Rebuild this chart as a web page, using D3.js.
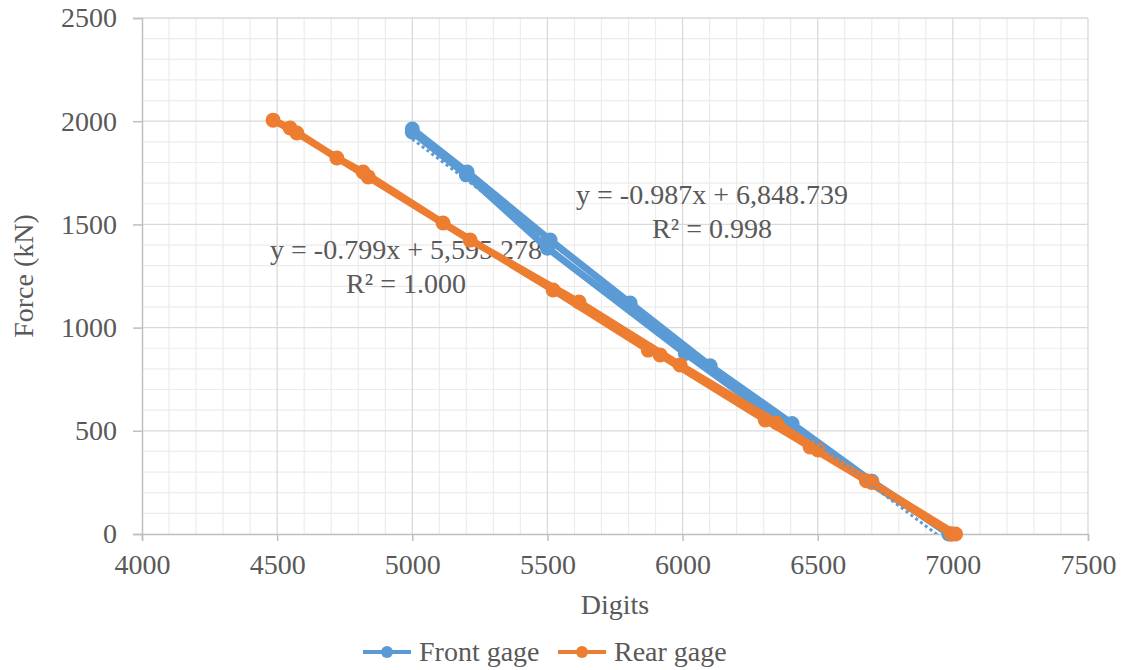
<!DOCTYPE html>
<html>
<head>
<meta charset="utf-8">
<script src="https://cdn.jsdelivr.net/npm/d3@7"></script>
<style>
  body { margin: 0; background: #fff; }
  text { font-family: "Liberation Serif", "Times New Roman", serif; fill: #595959; }
</style>
</head>
<body>
<div id="chart"></div>
<script>
// front gage: loading then unloading path (digits, kN)
const frontDigits = [6985, 6700, 6405, 6102, 5806, 5510, 5203, 5000, 5000, 5200, 5500, 6010, 6500, 6700, 6995];
const frontForce  = [0, 255, 535, 815, 1119, 1424, 1754, 1962, 1948, 1740, 1385, 875, 410, 255, 0];

// rear gage
const rearDigits = [7010, 6700, 6502, 6350, 5991, 5617, 5214, 4837, 4573, 4485, 4548, 4721, 4818, 5114, 5521, 5873, 5917, 6306, 6472, 6680, 6995];
const rearForce  = [0, 250, 407, 538, 819, 1124, 1424, 1730, 1943, 2005, 1967, 1822, 1754, 1507, 1182, 891, 867, 552, 422, 258, 0];

// linear trendlines from the chart labels
const trendFront = { slope: -0.987, intercept: 6848.739, r2: "0.998", label: "y = -0.987x + 6,848.739" };
const trendRear  = { slope: -0.799, intercept: 5595.278, r2: "1.000", label: "y = -0.799x + 5,595.278" };

const xTicks = [4000, 4500, 5000, 5500, 6000, 6500, 7000, 7500];
const yTicks = [0, 500, 1000, 1500, 2000, 2500];

const W = 1126, H = 670;
const margin = { top: 18, right: 38, bottom: 136, left: 142 };
const width = W - margin.left - margin.right,
    height = H - margin.top - margin.bottom;

const blue = "#5b9bd5", orange = "#ed7d31";
const fontSize = 28;

let svg = d3.select("#chart").append("svg")
    .attr("width", W)
    .attr("height", H);

let g = svg.append("g")
    .attr("transform", `translate(${margin.left},${margin.top})`);

let x = d3.scaleLinear().domain([4000, 7500]).range([0, width]);
let y = d3.scaleLinear().domain([0, 2500]).range([height, 0]);

// minor grid
g.append("g").selectAll("line")
    .data(d3.range(4100, 7500, 100).filter(d => d % 500 !== 0))
    .join("line")
    .attr("x1", d => x(d)).attr("x2", d => x(d))
    .attr("y1", 0).attr("y2", height)
    .attr("stroke", "#ececec").attr("stroke-width", 1.2);
g.append("g").selectAll("line")
    .data(d3.range(100, 2500, 100).filter(d => d % 500 !== 0))
    .join("line")
    .attr("x1", 0).attr("x2", width)
    .attr("y1", d => y(d)).attr("y2", d => y(d))
    .attr("stroke", "#ececec").attr("stroke-width", 1.2);

// major grid
g.append("g").selectAll("line")
    .data(xTicks.slice(1))
    .join("line")
    .attr("x1", d => x(d)).attr("x2", d => x(d))
    .attr("y1", 0).attr("y2", height)
    .attr("stroke", "#d9d9d9").attr("stroke-width", 1.3);
g.append("g").selectAll("line")
    .data(yTicks.slice(1))
    .join("line")
    .attr("x1", 0).attr("x2", width)
    .attr("y1", d => y(d)).attr("y2", d => y(d))
    .attr("stroke", "#d9d9d9").attr("stroke-width", 1.3);

// axes
let xAxis = d3.axisBottom(x).tickValues(xTicks).tickSize(7).tickPadding(13).tickFormat(d3.format("d"));
let yAxis = d3.axisLeft(y).tickValues(yTicks).tickSize(9).tickPadding(16).tickFormat(d3.format("d"));

function styleAxis(s) {
    s.attr("font-family", null);
    s.selectAll("line, path").attr("stroke", "#bfbfbf").attr("stroke-width", 1.5);
    s.selectAll("text").attr("font-size", fontSize).attr("fill", "#595959");
}

g.append("g")
    .attr("class", "axis x-axis")
    .attr("transform", `translate(0, ${height})`)
    .call(xAxis)
    .call(styleAxis);

g.append("g")
    .attr("class", "axis y-axis")
    .call(yAxis)
    .call(styleAxis);

// trendline labels (under the series lines)
function trendLabel(t, cx, cy) {
    g.append("text").attr("x", cx - margin.left).attr("y", cy - margin.top)
        .attr("text-anchor", "middle").attr("font-size", fontSize)
        .text(t.label);
    g.append("text").attr("x", cx - margin.left).attr("y", cy + 34 - margin.top)
        .attr("text-anchor", "middle").attr("font-size", fontSize)
        .text("R² = " + t.r2);
}
trendLabel(trendFront, 712, 204);
trendLabel(trendRear, 406, 259);

// series
const line = d3.line().x(d => x(d[0])).y(d => y(d[1]));
const front = frontDigits.map((d, i) => [d, frontForce[i]]);
const rear = rearDigits.map((d, i) => [d, rearForce[i]]);

function drawSeries(data, color) {
    g.append("path").datum(data)
        .attr("d", line)
        .attr("fill", "none")
        .attr("stroke", color)
        .attr("stroke-width", 7)
        .attr("stroke-linejoin", "round");
    g.append("g").selectAll("circle")
        .data(data)
        .join("circle")
        .attr("cx", d => x(d[0])).attr("cy", d => y(d[1]))
        .attr("r", 7.5)
        .attr("fill", color);
}
drawSeries(front, blue);
drawSeries(rear, orange);

// trendlines (dotted), clipped to plot area
svg.append("clipPath").attr("id", "plotclip")
    .append("rect").attr("width", width).attr("height", height);

function drawTrend(t, xs, color) {
    const x0 = d3.min(xs), x1 = d3.max(xs);
    g.append("line")
        .attr("clip-path", "url(#plotclip)")
        .attr("x1", x(x0)).attr("y1", y(t.slope * x0 + t.intercept))
        .attr("x2", x(x1)).attr("y2", y(t.slope * x1 + t.intercept))
        .attr("stroke", color)
        .attr("stroke-width", 3)
        .attr("stroke-dasharray", "3,3");
}
drawTrend(trendFront, frontDigits, blue);
drawTrend(trendRear, rearDigits, orange);

// axis titles
svg.append("text")
    .attr("transform", `translate(33, ${margin.top + height / 2}) rotate(-90)`)
    .attr("text-anchor", "middle").attr("font-size", fontSize)
    .text("Force (kN)");
svg.append("text")
    .attr("x", 615).attr("y", 614)
    .attr("text-anchor", "middle").attr("font-size", fontSize)
    .text("Digits");

// legend
const legend = [
    { name: "Front gage", color: blue, x: 363 },
    { name: "Rear gage", color: orange, x: 558 }
];
let lg = svg.append("g").selectAll("g").data(legend).join("g")
    .attr("transform", d => `translate(${d.x}, 652)`);
lg.append("line").attr("x1", 0).attr("x2", 48).attr("y1", 0).attr("y2", 0)
    .attr("stroke", d => d.color).attr("stroke-width", 4);
lg.append("circle").attr("cx", 24).attr("cy", 0).attr("r", 6).attr("fill", d => d.color);
lg.append("text").attr("x", 56).attr("y", 9).attr("font-size", fontSize).text(d => d.name);
</script>
</body>
</html>
